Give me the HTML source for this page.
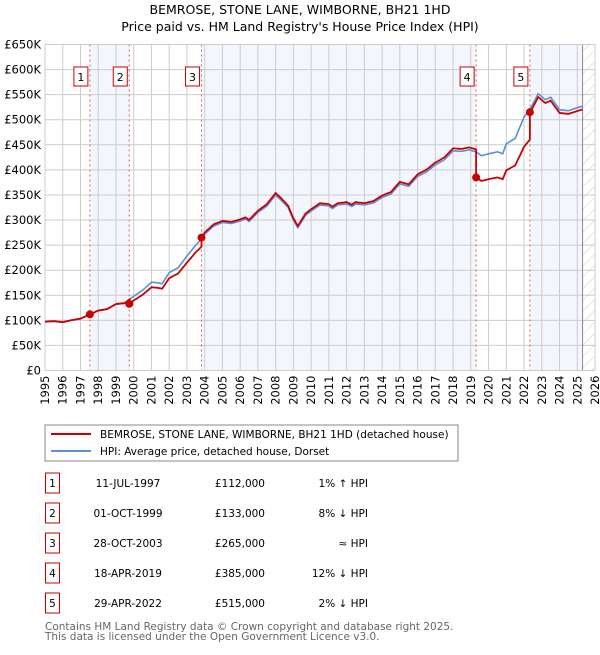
<!DOCTYPE html>
<html><head><meta charset="utf-8"><style>
body{margin:0;background:#fff;font-family:"Liberation Sans","DejaVu Sans",sans-serif;}
svg text{font-family:"DejaVu Sans","Liberation Sans",sans-serif;}
</style></head><body>
<svg id="chart" width="600" height="650" xmlns="http://www.w3.org/2000/svg">
<defs><pattern id="hatch" width="8" height="8" patternUnits="userSpaceOnUse" patternTransform="rotate(45)"><line x1="0" y1="0" x2="0" y2="8" stroke="#ccc" stroke-width="1"/></pattern></defs>
<text x="300" y="14" text-anchor="middle" font-size="12.5" fill="#000">BEMROSE, STONE LANE, WIMBORNE, BH21 1HD</text>
<text x="300" y="31" text-anchor="middle" font-size="12.5" fill="#000">Price paid vs. HM Land Registry's House Price Index (HPI)</text>
<g id="bands"></g><g id="grid"></g><g id="axes"></g><g id="series"></g><g id="markers"></g>
<g>
<rect x="45" y="425" width="413" height="36" fill="#fff" stroke="#888"/>
<line x1="51" y1="434" x2="91" y2="434" stroke="#cc0000" stroke-width="2"/>
<text x="100" y="438" font-size="10.5">BEMROSE, STONE LANE, WIMBORNE, BH21 1HD (detached house)</text>
<line x1="51" y1="451" x2="91" y2="451" stroke="#5b8fd6" stroke-width="2"/>
<text x="100" y="455" font-size="10.5">HPI: Average price, detached house, Dorset</text>
</g>
<g id="table"></g>
<text x="45" y="630" font-size="10.5" fill="#666">Contains HM Land Registry data © Crown copyright and database right 2025.</text>
<text x="45" y="640" font-size="10.5" fill="#666">This data is licensed under the Open Government Licence v3.0.</text>
</svg>
<script>
const hpiDates=[1995,1995.5,1996,1996.5,1997,1997.5,1998,1998.5,1999,1999.5,2000,2000.5,2001,2001.3,2001.6,2002,2002.5,2003,2003.5,2003.8,2004,2004.5,2005,2005.5,2006,2006.3,2006.5,2007,2007.5,2008,2008.3,2008.7,2009,2009.25,2009.7,2010,2010.5,2011,2011.2,2011.5,2012,2012.3,2012.5,2013,2013.5,2014,2014.5,2015,2015.5,2016,2016.5,2017,2017.5,2018,2018.5,2018.9,2019.3,2019.6,2020,2020.5,2020.8,2021,2021.5,2022,2022.4,2022.8,2023.2,2023.5,2023.8,2024,2024.5,2025,2025.3];
const hpiValues=[97,98,96,100,103,111,119,122,132,134,148,160,176,175,173,195,205,228,250,261,272,288,295,293,298,302,297,315,328,350,340,325,300,285,310,318,330,328,323,330,332,327,332,330,334,345,352,372,367,387,396,410,420,438,437,440,436,428,432,436,432,452,463,505,525,552,540,545,530,520,518,524,527];
const saleLabels=["1","2","3","4","5"];
const saleDates=[1997.53,1999.75,2003.82,2019.3,2022.33];
const salePrices=[112,133,265,385,515];
const saleDateText=["11-JUL-1997","01-OCT-1999","28-OCT-2003","18-APR-2019","29-APR-2022"];
const salePriceText=["£112,000","£133,000","£265,000","£385,000","£515,000"];
const saleHpiText=["1% ↑ HPI","8% ↓ HPI","≈ HPI","12% ↓ HPI","2% ↓ HPI"];
const yTicks=[0,50,100,150,200,250,300,350,400,450,500,550,600,650];
const yTickLabels=["£0","£50K","£100K","£150K","£200K","£250K","£300K","£350K","£400K","£450K","£500K","£550K","£600K","£650K"];
const xYears=[1995,1996,1997,1998,1999,2000,2001,2002,2003,2004,2005,2006,2007,2008,2009,2010,2011,2012,2013,2014,2015,2016,2017,2018,2019,2020,2021,2022,2023,2024,2025,2026];
const dataEnd=2025.3;
const L=45,R=595,T=44.5,B=370.5;
const X=d=>L+(d-1995)/(2026-1995)*(R-L);
const Y=v=>B-v/650*(B-T);
const NS="http://www.w3.org/2000/svg";
function mk(tag,attrs,parent){const e=document.createElementNS(NS,tag);for(const k in attrs)e.setAttribute(k,attrs[k]);document.getElementById(parent).appendChild(e);return e;}
function hpiAt(t){for(let i=0;i<hpiDates.length-1;i++){if(t<=hpiDates[i+1]){const f=(t-hpiDates[i])/(hpiDates[i+1]-hpiDates[i]);return hpiValues[i]+f*(hpiValues[i+1]-hpiValues[i]);}}return hpiValues[hpiValues.length-1];}
const bx=[1995,...saleDates,dataEnd];
for(let i=0;i<bx.length-1;i++){if(i%2===1){const r=mk('rect',{x:X(bx[i]),y:T,width:X(bx[i+1])-X(bx[i]),height:B-T,fill:'#f3f6fd'},'bands');

}}
const h=mk('rect',{x:X(dataEnd),y:T,width:R-X(dataEnd),height:B-T,fill:'url(#hatch)'},'bands');


yTicks.forEach((v,i)=>{const l=mk('line',{x1:L,x2:R,y1:Y(v),y2:Y(v),stroke:'#ccc','stroke-width':1},'grid');


const t=mk('text',{x:L-4,y:Y(v)+4,'text-anchor':'end','font-size':'11.5',fill:'#000'},'axes');t.textContent=yTickLabels[i];

});
xYears.forEach(yr=>{const l=mk('line',{x1:X(yr),x2:X(yr),y1:T,y2:B,stroke:'#ccc','stroke-width':1},'grid');


const t=mk('text',{x:0,y:0,'text-anchor':'end','font-size':'11.5',transform:`translate(${X(yr)+4},${B+5}) rotate(-90)`},'axes');t.textContent=yr;

});
const ve=mk('line',{x1:X(dataEnd),x2:X(dataEnd),y1:T,y2:B,stroke:'#888','stroke-width':1},'grid');


saleDates.forEach((d,i)=>{const l=mk('line',{x1:X(d),x2:X(d),y1:T,y2:B,stroke:'#e06060','stroke-width':1,'stroke-dasharray':'2,3'},'grid');


const bw=14,bh=19;const r=mk('rect',{x:X(d)-bw-2,y:67,width:bw,height:bh,fill:'#fff',stroke:'#cc0000'},'markers');


const t=mk('text',{x:X(d)-2-bw/2,y:81,'text-anchor':'middle','font-size':'11'},'markers');t.textContent=saleLabels[i];

});
let hp='';hpiDates.forEach((d,i)=>{hp+=(i?'L':'M')+X(d).toFixed(1)+','+Y(hpiValues[i]).toFixed(1);});
const hl=mk('path',{d:hp,fill:'none',stroke:'#5b8fd6','stroke-width':1.6},'series');


let rp='';let first=true;
const pts=[];
for(let t=1995;t<=dataEnd+0.001;t+=0.05){let k=-1;for(let j=0;j<saleDates.length;j++)if(saleDates[j]<=t)k=j;
const j=k<0?0:k;pts.push([t,salePrices[j]*hpiAt(t)/hpiAt(saleDates[j])]);}
saleDates.forEach((d,j)=>{if(j>0)pts.push([d-0.001,salePrices[j-1]*hpiAt(d)/hpiAt(saleDates[j-1])]);pts.push([d,salePrices[j]]);});
pts.sort((a,b)=>a[0]-b[0]);
pts.forEach(p=>{rp+=(first?'M':'L')+X(p[0]).toFixed(1)+','+Y(p[1]).toFixed(1);first=false;});
const rl=mk('path',{d:rp,fill:'none',stroke:'#cc0000','stroke-width':1.8},'series');


saleDates.forEach((d,i)=>{const c=mk('circle',{cx:X(d),cy:Y(salePrices[i]),r:4,fill:'#cc0000'},'series');

});
const ax=mk('rect',{x:L,y:T,width:R-L,height:B-T,fill:'none',stroke:'#ccc'},'axes');


saleLabels.forEach((s,i)=>{const cy=483+i*30;
const b=mk('rect',{x:45.5,y:cy-10,width:14,height:20,fill:'#fff',stroke:'#cc0000'},'table');


const cols=[[52.5,'middle',s],[128,'middle',saleDateText[i]],[265,'end',salePriceText[i]],[368,'end',saleHpiText[i]]];
const names=['table-row-number','sale-date','sale-price','hpi-comparison'];
cols.forEach((c,k)=>{const t=mk('text',{x:c[0],y:cy+4,'text-anchor':c[1],'font-size':'10.5'},'table');t.textContent=c[2];

});});
</script>
</body></html>
